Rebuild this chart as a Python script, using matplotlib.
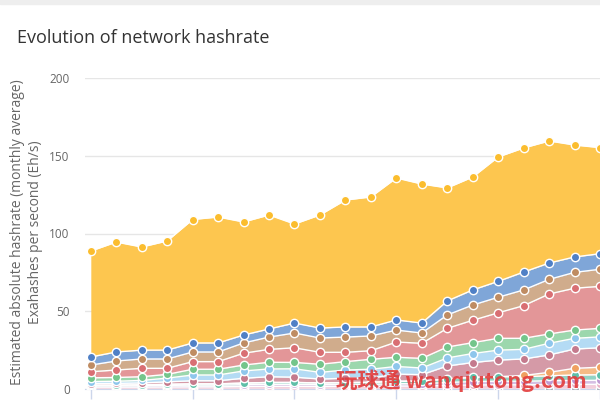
import numpy as np
import matplotlib.pyplot as plt

plt.rcParams['font.family'] = ['Open Sans', 'DejaVu Sans']

# monthly points (21st one is cut off by the right edge)
months = list(range(21))
nan = np.nan

# series from the bottom of the stack to the top (Eh/s)
grey = [0.3] * 21
pink = [0.9, 0.9, 0.9, 1.0, 1.1, 1.1, 1.3, 1.4, 1.4, 1.3, 1.4, 1.4, 1.6, 1.6, 2.0, 2.3, 2.4, 2.4, 2.6, 2.7, 2.7]
lilac = [0.8, 0.8, 0.9, 1.0, 1.1, 1.1, 1.2, 1.3, 1.3, 1.2, 1.2, 1.3, 1.5, 1.5, 1.9, 2.2, 2.3, 2.3, 2.4, 2.5, 2.6]
teal = [0.5, 0.5, 0.6, 0.7, 0.8, 0.8, 1.0, 1.2, 1.2, 1.1, 1.2, 1.3, 1.6, 1.6, 2.3, 2.7, 2.9, 2.9, 3.2, 3.5, 3.6]
orange = [nan] * 17 + [0.8, 2.2, 4.3, 4.8]
mauve = [1.0, 1.1, 1.2, 1.6, 2.0, 2.0, 3.1, 3.7, 3.4, 2.5, 2.8, 2.7, 4.6, 4.2, 8.3, 9.5, 10.7, 10.6, 11.2, 12.4, 12.5]
lightblue = [1.3, 1.4, 1.6, 2.4, 3.7, 3.7, 4.7, 5.0, 5.4, 4.3, 5.3, 5.7, 4.9, 4.3, 5.2, 5.8, 6.4, 6.2, 7.5, 6.9, 7.0]
green = [2.4, 2.4, 2.4, 2.4, 3.7, 3.7, 3.8, 4.3, 4.1, 5.2, 5.4, 6.4, 5.9, 6.2, 7.0, 7.0, 7.6, 7.1, 6.0, 5.3, 5.5]
red = [3.9, 4.8, 5.4, 3.9, 4.9, 4.9, 7.6, 8.3, 9.4, 7.7, 6.0, 5.5, 9.8, 9.7, 12.0, 14.4, 16.4, 21.0, 25.7, 26.9, 27.0]
tan = [4.3, 5.8, 6.0, 6.0, 6.2, 6.2, 6.6, 7.9, 9.5, 9.2, 9.8, 9.5, 7.7, 6.6, 8.6, 9.8, 10.0, 10.1, 9.4, 10.2, 11.0]
blue = [5.2, 5.8, 5.7, 5.7, 5.8, 5.8, 5.1, 5.2, 6.4, 6.4, 6.5, 5.8, 6.5, 6.4, 9.0, 9.7, 10.2, 11.5, 10.5, 9.9, 10.0]
yellow = [68.1, 70.7, 66.3, 70.2, 79.4, 81.0, 72.7, 73.3, 63.7, 72.7, 81.6, 83.6, 91.3, 89.4, 72.7, 72.6, 80.0, 79.8, 78.5, 72.0, 68.2]

series = [grey, pink, lilac, teal, orange, mauve, lightblue, green, red, tan, blue, yellow]
area_cols = ['#c4cad2', '#f3cfdc', '#d6bfe3', '#93d3c4', '#f5bb85', '#d59aa7', '#b4dbf4',
             '#9cd7ad', '#e39698', '#d0ac8c', '#7fa6d8', '#fdc64f']
mark_cols = ['#aab3bd', '#eab3c6', '#bf9ad3', '#5fbfa8', '#f0a060', '#c47a8d', '#8ec6ec',
             '#74c58b', '#d96f73', '#bf8c62', '#4f80c6', '#fbbd2e']

fig = plt.figure(figsize=(6, 4), dpi=100)
fig.patches.append(plt.Rectangle((0, 0.99), 1, 0.01, transform=fig.transFigure,
                                 color='#eeeeee', zorder=0))
ax = fig.add_axes([85 / 600, 11 / 400, 515 / 600, 311 / 400])

x = np.array(months)
base = np.zeros(len(x))
for i, (vals, ac, mc) in enumerate(zip(series, area_cols, mark_cols)):
    v = np.array(vals, dtype=float)
    top = base + np.nan_to_num(v)
    ax.fill_between(x, base, top, color=ac, lw=0, zorder=2 + i * 0.01)
    ax.plot(x, top, color='white', lw=1, zorder=3 + i * 0.01)
    ok = ~np.isnan(v)
    ax.plot(x[ok], top[ok], 'o', ms=6, mfc=mc, mec='white', mew=1, zorder=4 + i * 0.01)
    base = top

ax.set_xlim(-6 / 26.3, 509 / 26.3)
ax.set_ylim(0, 200)
ax.set_yticks([0, 50, 100, 150, 200])
ax.set_xticks([0, 4, 8, 12, 16, 20])
ax.set_xticklabels([])
ax.grid(axis='y', color='#e6e6e6', lw=1, zorder=0)
for s in ['top', 'right', 'left']:
    ax.spines[s].set_visible(False)
ax.spines['bottom'].set_color('#ccd6eb')
ax.tick_params(axis='y', length=0, pad=11, labelsize=8.5, labelcolor='#666666')
ax.tick_params(axis='x', length=7, color='#ccd6eb', width=1)

fig.text(26.5 / 600, 1 - 232 / 400,
         'Estimated absolute hashrate (monthly average)\nExahashes per second (Eh/s)',
         rotation=90, ha='center', va='center', fontsize=10, color='#666666',
         linespacing=1.2)

fig.text(17 / 600, 1 - 38 / 400, 'Evolution of network hashrate', fontsize=13,
         color='#333333', va='center', ha='left')

fig.text(336 / 600, 1 - 381 / 400, '玩球通 wanqiutong.com', fontsize=15.5, fontweight='bold',
         color='#e23b3b', alpha=0.9, va='center', ha='left', zorder=10,
         family=['Noto Sans CJK SC', 'DejaVu Sans'])

fig.savefig('out.png', dpi=100)
